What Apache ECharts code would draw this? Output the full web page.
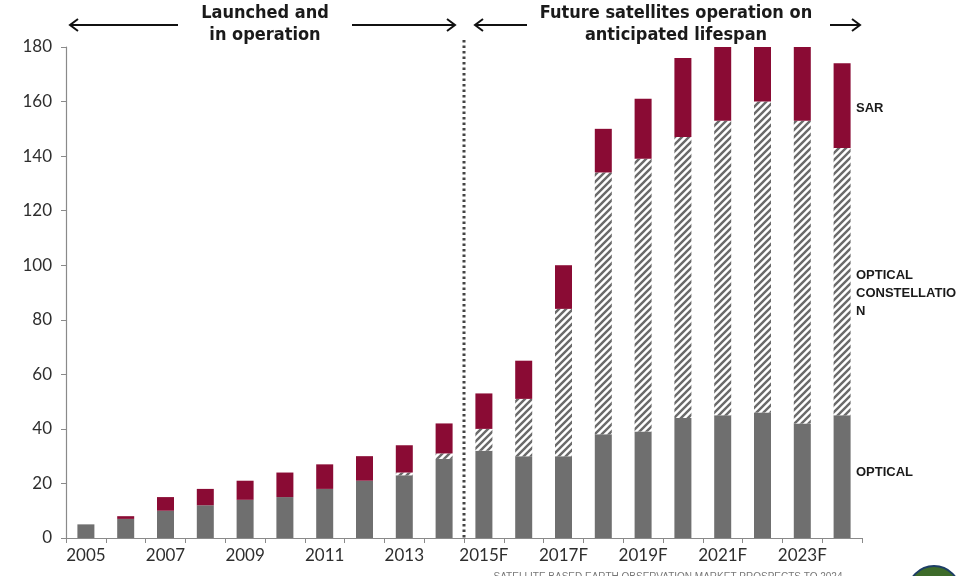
<!DOCTYPE html>
<html>
<head>
<meta charset="utf-8">
<script src="https://cdn.jsdelivr.net/npm/echarts@6/dist/echarts.min.js"></script>
<style>
html,body{margin:0;padding:0;background:#fff;}
#chart{width:974px;height:576px;}
</style>
</head>
<body>
<div id="chart"></div>
<script>
const categories = ['2005','2006','2007','2008','2009','2010','2011','2012','2013','2014',
  '2015F','2016F','2017F','2018F','2019F','2020F','2021F','2022F','2023F','2024F'];
const optical = [5,7,10,12,14,15,18,21,23,29,32,30,30,38,39,44,45,46,42,45];
const constellation = [0,0,0,0,0,0,0,0,1,2,8,21,54,96,100,103,108,114,111,98];
const sar = [0,1,5,6,7,9,9,9,10,11,13,14,16,16,22,29,27,20,27,31];
const yTicks = [0,20,40,60,80,100,120,140,160,180];
const dividerAfter = '2014';

function makeHatch(){
  const s = 7;
  const c = document.createElement('canvas');
  c.width = s; c.height = s;
  const g = c.getContext('2d');
  g.fillStyle = '#ffffff';
  g.fillRect(0,0,s,s);
  g.strokeStyle = '#6a6a6a';
  g.lineWidth = 2.4;
  g.beginPath();
  g.moveTo(-1, s+1); g.lineTo(s+1, -1);
  g.moveTo(-1, 1); g.lineTo(1, -1);
  g.moveTo(s-1, s+1); g.lineTo(s+1, s-1);
  g.stroke();
  return c;
}

const chart = echarts.init(document.getElementById('chart'), null, {renderer:'canvas'});
const RED = '#8a0b34', GRAY = '#6f6f6f';
const titleFont = {fontFamily:"'DejaVu Sans Condensed','Liberation Sans',Arial,sans-serif", fontWeight:'bold', fontSize:18, fill:'#1a1a1a'};
const sideFont = {fontFamily:"'Liberation Sans',Arial,sans-serif", fontWeight:'bold', fontSize:13, fill:'#1a1a1a'};

const option = {
  animation:false,
  backgroundColor:'#ffffff',
  grid:{left:66, right:112, top:47, bottom:38, containLabel:false},
  xAxis:{
    type:'category', data:categories,
    axisLine:{lineStyle:{color:'#8a8a8a', width:1.2}},
    axisTick:{show:true, interval:0, length:5, lineStyle:{color:'#8a8a8a'}},
    axisLabel:{interval:1, color:'#2e2e2e', fontFamily:'Lato', fontSize:17, margin:9}
  },
  yAxis:{
    type:'value', min:yTicks[0], max:yTicks[yTicks.length-1], interval:yTicks[1]-yTicks[0],
    splitLine:{show:false},
    axisLine:{show:true, lineStyle:{color:'#8a8a8a', width:1.2}},
    axisTick:{show:true, length:5, lineStyle:{color:'#8a8a8a'}},
    axisLabel:{color:'#2e2e2e', fontFamily:'Lato', fontSize:17, margin:14}
  },
  series:[
    {name:'OPTICAL', type:'bar', stack:'s', data:optical, barWidth:17, itemStyle:{color:GRAY}},
    {name:'OPTICAL CONSTELLATION', type:'bar', stack:'s', data:constellation, barWidth:17,
      itemStyle:{color:{image:makeHatch(), repeat:'repeat'}}},
    {name:'SAR', type:'bar', stack:'s', data:sar, barWidth:17, itemStyle:{color:RED}}
  ]
};
chart.setOption(option);

// divider between launched and forecast, from axis positions
const i = categories.indexOf(dividerAfter);
const xa = chart.convertToPixel({xAxisIndex:0}, categories[i]);
const xb = chart.convertToPixel({xAxisIndex:0}, categories[i+1]);
const xd = (xa + xb) / 2;
const y0 = chart.convertToPixel({yAxisIndex:0}, 0);

function arrow(x1, x2, y, headAt){
  const hx = headAt === 'left' ? x1 : x2;
  const d = headAt === 'left' ? 1 : -1;
  return [
    {type:'line', shape:{x1:x1, y1:y, x2:x2, y2:y}, style:{stroke:'#111', lineWidth:2}},
    {type:'polyline', shape:{points:[[hx+d*8, y-6],[hx, y],[hx+d*8, y+6]]}, style:{stroke:'#111', lineWidth:2, fill:null}}
  ];
}

const graphics = [
  {type:'line', shape:{x1:xd, y1:40, x2:xd, y2:y0}, style:{stroke:'#444', lineWidth:3, lineDash:[2.5,3]}},
  {type:'text', x:265, y:13, style:Object.assign({text:'Launched and', align:'center', verticalAlign:'middle'}, titleFont)},
  {type:'text', x:265, y:35, style:Object.assign({text:'in operation', align:'center', verticalAlign:'middle'}, titleFont)},
  {type:'text', x:676, y:13, style:Object.assign({text:'Future satellites operation on', align:'center', verticalAlign:'middle'}, titleFont)},
  {type:'text', x:676, y:35, style:Object.assign({text:'anticipated lifespan', align:'center', verticalAlign:'middle'}, titleFont)},
  {type:'text', x:856, y:108, style:Object.assign({text:'SAR', align:'left', verticalAlign:'middle'}, sideFont)},
  {type:'text', x:856, y:275, style:Object.assign({text:'OPTICAL', align:'left', verticalAlign:'middle'}, sideFont)},
  {type:'text', x:856, y:293, style:Object.assign({text:'CONSTELLATIO', align:'left', verticalAlign:'middle'}, sideFont)},
  {type:'text', x:856, y:311, style:Object.assign({text:'N', align:'left', verticalAlign:'middle'}, sideFont)},
  {type:'text', x:856, y:472, style:Object.assign({text:'OPTICAL', align:'left', verticalAlign:'middle'}, sideFont)},
  {type:'text', x:668, y:577, style:{text:'SATELLITE BASED EARTH OBSERVATION MARKET PROSPECTS TO 2024', align:'center', verticalAlign:'middle', fontFamily:"'Liberation Sans',Arial,sans-serif", fontSize:10, fill:'#777'}},
  {type:'circle', shape:{cx:934, cy:592, r:26}, style:{fill:'#3d6b2a', stroke:'#1c3d66', lineWidth:2}}
].concat(arrow(70, 178, 25, 'left'), arrow(352, 455, 25, 'right'), arrow(475, 527, 25, 'left'), arrow(830, 860, 25, 'right'));

chart.setOption({graphic:{elements:graphics}});
</script>
</body>
</html>
